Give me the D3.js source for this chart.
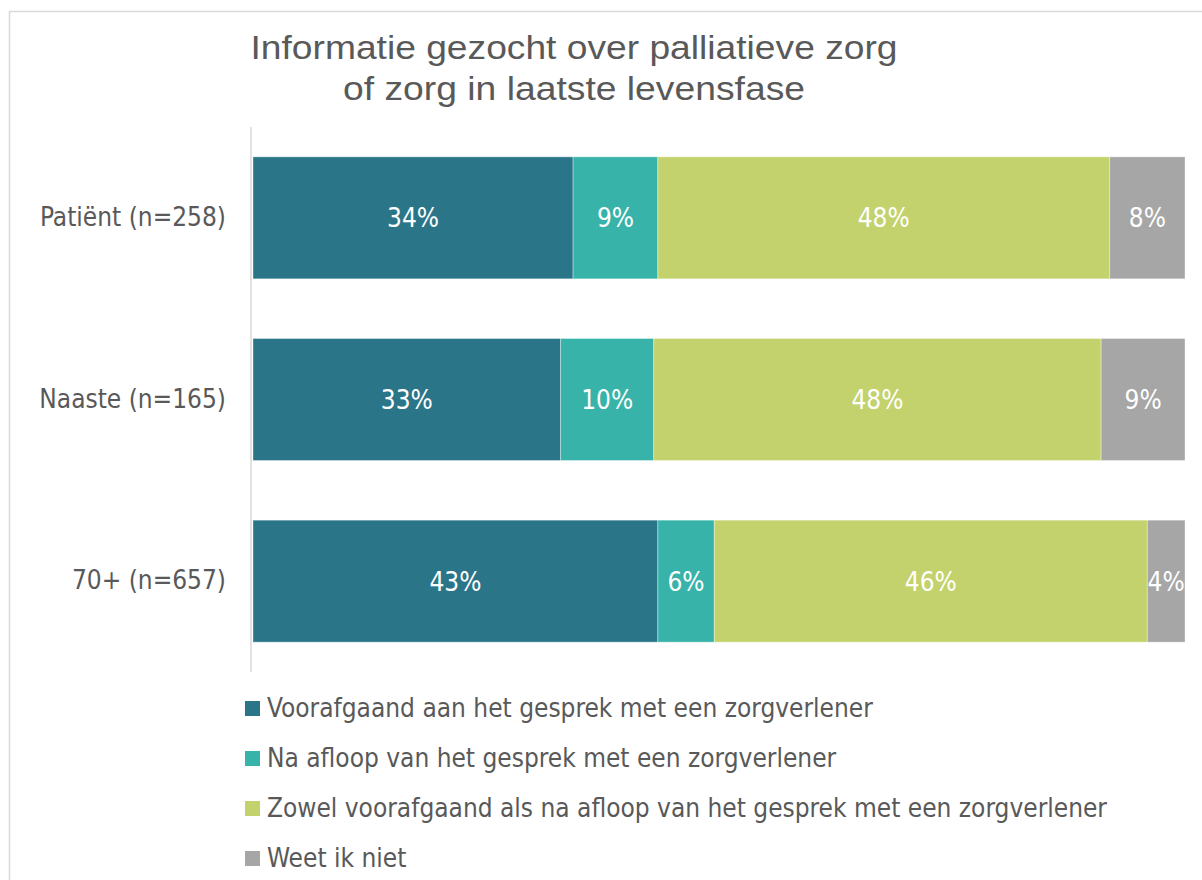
<!DOCTYPE html>
<html>
<head>
<meta charset="utf-8">
<script src="https://cdn.jsdelivr.net/npm/d3@7"></script>
<style>
  html, body { margin: 0; padding: 0; background: #fff; }
  svg { display: block; }
</style>
</head>
<body>
<svg id="chart" width="1202" height="880"></svg>
<script>
// Respondent groups (top to bottom)
const categories = ["Patiënt (n=258)", "Naaste (n=165)", "70+ (n=657)"];

// Answer options, in stacking order
const seriesNames = [
  "Voorafgaand aan het gesprek met een zorgverlener",
  "Na afloop van het gesprek met een zorgverlener",
  "Zowel voorafgaand als na afloop van het gesprek met een zorgverlener",
  "Weet ik niet"
];

// Percentages per answer option, one value per group
const voorafgaand = [34, 33, 43];
const naAfloop    = [9, 10, 6];
const zowel       = [48, 48, 46];
const weetNiet    = [8, 9, 4];

const seriesValues = [voorafgaand, naAfloop, zowel, weetNiet];
const colors = ["#2b7589", "#38b3a9", "#c3d26c", "#a6a6a6"];

const titleLines = ["Informatie gezocht over palliatieve zorg", "of zorg in laatste levensfase"];

const svg = d3.select("#chart");
const textGrey = "#595959";
const labelFont = "'DejaVu Sans Condensed', 'DejaVu Sans', sans-serif";
const labelSize = 26;

// Outer frame
svg.append("rect")
  .attr("x", 9.5).attr("y", 11.5)
  .attr("width", 1210).attr("height", 900)
  .attr("fill", "#fff")
  .attr("stroke", "#d9d9d9").attr("stroke-width", 1.5);

// Title, drawn in a narrow setting
const titleWidths = [647, 462];
svg.append("g").selectAll("text")
  .data(titleLines)
  .join("text")
  .attr("x", 574)
  .attr("y", (d, i) => 59 + i * 41)
  .attr("text-anchor", "middle")
  .attr("font-family", "'Liberation Sans', Arial, sans-serif")
  .attr("font-size", 33)
  .attr("fill", textGrey)
  .attr("textLength", (d, i) => titleWidths[i])
  .attr("lengthAdjust", "spacingAndGlyphs")
  .text(d => d);

// Scales
const y = d3.scaleBand()
  .domain(categories)
  .range([127, 672])
  .paddingInner(0.3285)
  .paddingOuter(0.16425);

const x = d3.scaleLinear().domain([0, 1]).range([253, 1185]);

// Build stacked segments, each row normalised to its own total
const rows = categories.map((cat, ci) => {
  const vals = seriesValues.map(s => s[ci]);
  const total = d3.sum(vals);
  let acc = 0;
  return vals.map((v, si) => {
    const seg = { cat, series: si, value: v, x0: acc / total, x1: (acc + v) / total };
    acc += v;
    return seg;
  });
});
const segments = rows.flat();

const bars = svg.append("g");
bars.selectAll("rect")
  .data(segments)
  .join("rect")
  .attr("x", d => x(d.x0))
  .attr("y", d => y(d.cat))
  .attr("width", d => x(d.x1) - x(d.x0))
  .attr("height", y.bandwidth())
  .attr("fill", d => colors[d.series])
  .attr("stroke", "#ffffff")
  .attr("stroke-opacity", 0.35)
  .attr("stroke-width", 1);

// Value labels
bars.selectAll("text")
  .data(segments)
  .join("text")
  .attr("x", d => (x(d.x0) + x(d.x1)) / 2)
  .attr("y", d => y(d.cat) + y.bandwidth() / 2)
  .attr("dy", "0.36em")
  .attr("text-anchor", "middle")
  .attr("font-family", labelFont)
  .attr("font-size", labelSize)
  .attr("fill", "#ffffff")
  .text(d => d.value + "%");

// Category axis
const yAxis = svg.append("g")
  .attr("transform", "translate(251,0)")
  .call(d3.axisLeft(y).tickSize(0).tickPadding(25));
yAxis.select(".domain")
  .attr("d", "M0,127V672")
  .attr("stroke", "#d9d9d9")
  .attr("stroke-width", 1.5);
yAxis.selectAll(".tick text")
  .attr("font-family", labelFont)
  .attr("font-size", labelSize)
  .attr("fill", textGrey);

// Legend
const legend = svg.append("g").selectAll("g")
  .data(seriesNames)
  .join("g")
  .attr("transform", (d, i) => `translate(245, ${708 + i * 50})`);
legend.append("rect")
  .attr("x", 0).attr("y", -7)
  .attr("width", 15).attr("height", 15)
  .attr("fill", (d, i) => colors[i]);
legend.append("text")
  .attr("x", 22)
  .attr("y", 0)
  .attr("dy", "0.36em")
  .attr("font-family", labelFont)
  .attr("font-size", labelSize)
  .attr("fill", textGrey)
  .text(d => d);
</script>
</body>
</html>
